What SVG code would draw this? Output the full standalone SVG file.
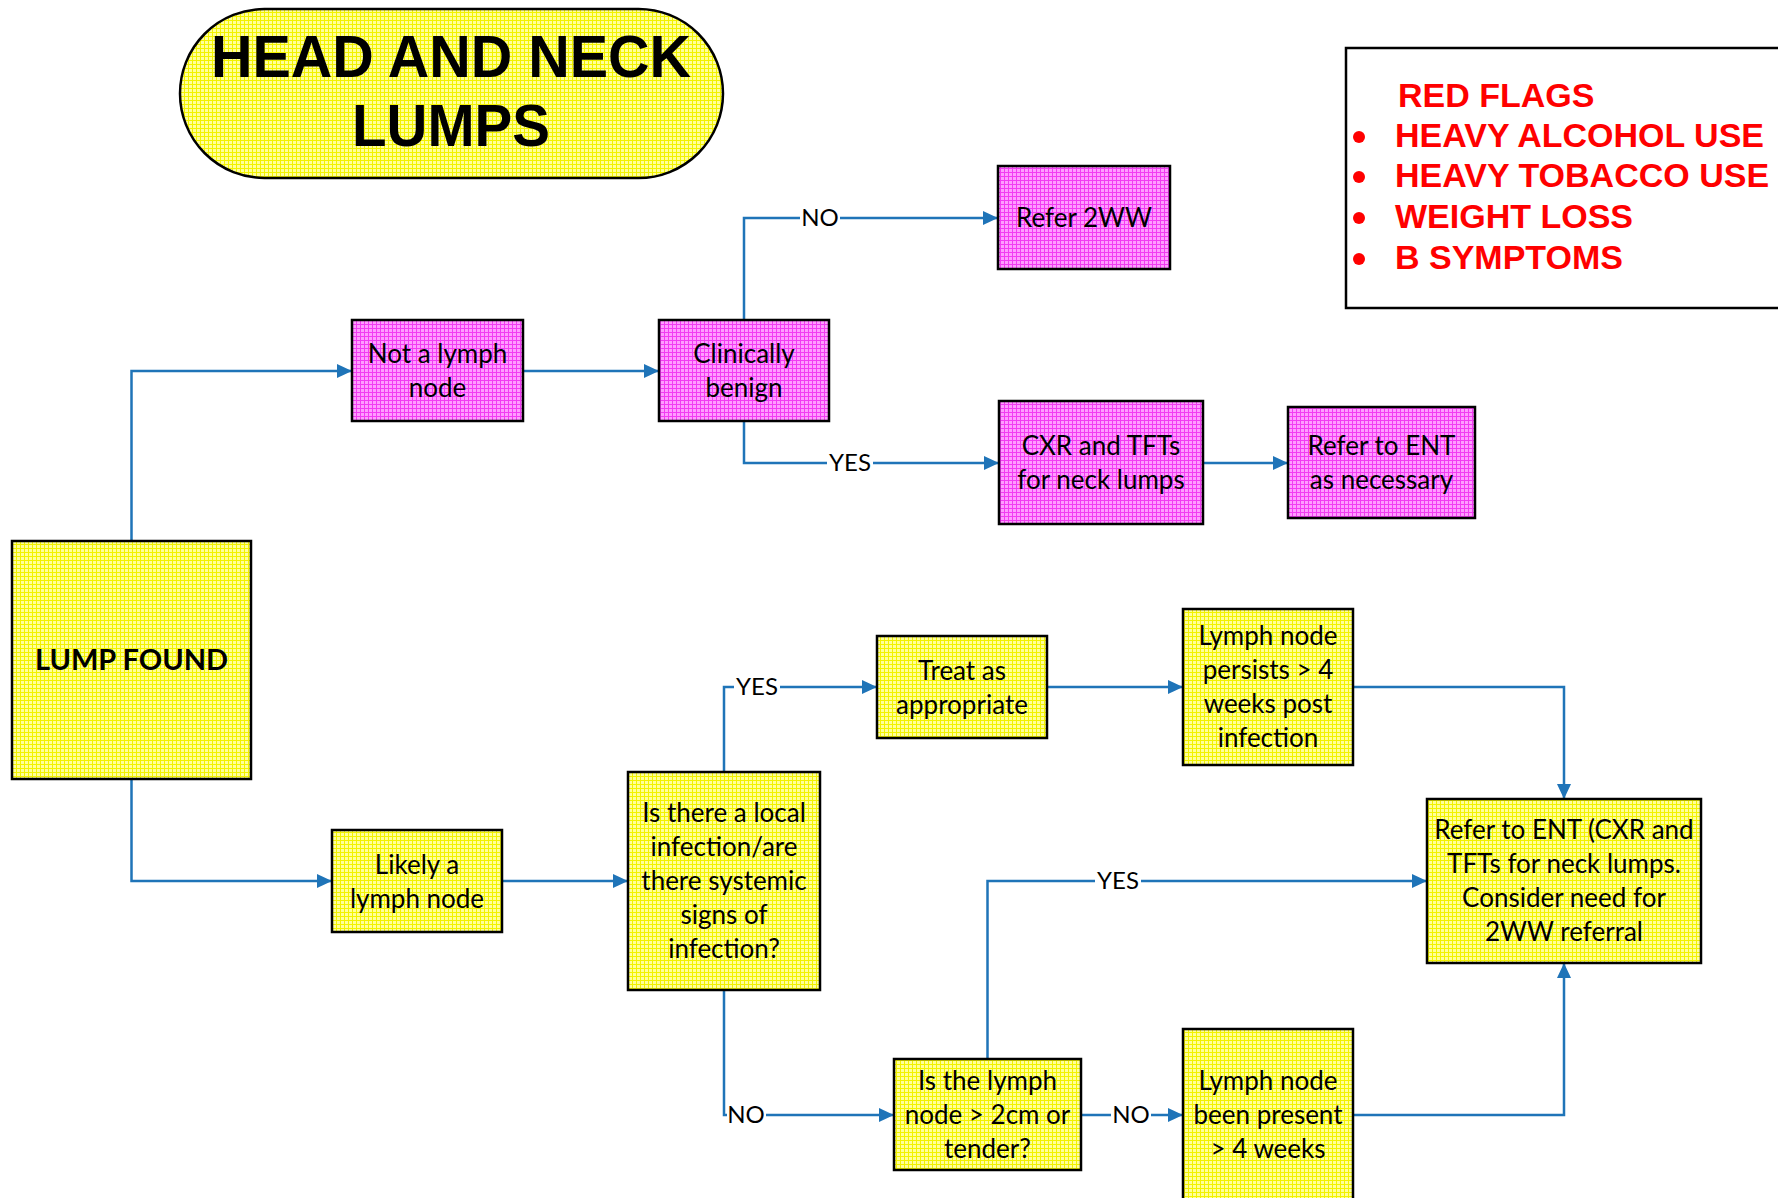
<svg xmlns="http://www.w3.org/2000/svg" width="1778" height="1198" viewBox="0 0 1778 1198">
<defs>
<pattern id="py" width="4" height="4" patternUnits="userSpaceOnUse">
<rect width="4" height="4" fill="#ffff9a"/>
<path d="M0 0.5H4M0.5 0V4" stroke="#f2f200" stroke-width="1"/>
</pattern>
<pattern id="pm" width="4" height="4" patternUnits="userSpaceOnUse">
<rect width="4" height="4" fill="#ff9cff"/>
<path d="M0 0.5H4M0.5 0V4" stroke="#f23cf2" stroke-width="1"/>
</pattern>
<marker id="ar" markerUnits="userSpaceOnUse" markerWidth="16" markerHeight="14" refX="15" refY="7" orient="auto">
<path d="M0,0 L15,7 L0,14 z" fill="#1f74b8"/>
</marker>
</defs>
<style>
.y{fill:url(#py);stroke:#000;stroke-width:2.5}
.m{fill:url(#pm);stroke:#000;stroke-width:2.5}
.t{font-family:Lato,"Open Sans",sans-serif;font-size:26px;fill:#000;text-anchor:middle}
.b{font-weight:bold;font-size:29px}
.c{fill:none;stroke:#1f74b8;stroke-width:2.5;marker-end:url(#ar)}
.lbl{font-family:Lato,"Open Sans",sans-serif;font-size:24px;fill:#000;text-anchor:middle}
.rf{font-family:"Liberation Sans",Arial,sans-serif;font-weight:bold;font-size:34px;fill:#ff0000}
</style>
<rect width="1778" height="1198" fill="#fff"/>

<g id="title">
<rect x="180" y="9" width="543" height="169" rx="84.5" ry="84.5" class="y"/>
<text x="451" y="77" font-family="Liberation Sans,Arial,sans-serif" font-weight="bold" font-size="60" text-anchor="middle" textLength="480" lengthAdjust="spacingAndGlyphs">HEAD AND NECK</text>
<text x="451" y="146" font-family="Liberation Sans,Arial,sans-serif" font-weight="bold" font-size="60" text-anchor="middle" textLength="198" lengthAdjust="spacingAndGlyphs">LUMPS</text>
</g>

<g id="redflags">
<rect x="1346" y="48" width="450" height="260" fill="#fff" stroke="#000" stroke-width="2.5"/>
<text class="rf" x="1398" y="107">RED FLAGS</text>
<circle cx="1359" cy="137" r="6" fill="#ff0000"/>
<text class="rf" x="1395" y="147">HEAVY ALCOHOL USE</text>
<circle cx="1359" cy="177" r="6" fill="#ff0000"/>
<text class="rf" x="1395" y="187">HEAVY TOBACCO USE</text>
<circle cx="1359" cy="218" r="6" fill="#ff0000"/>
<text class="rf" x="1395" y="228">WEIGHT LOSS</text>
<circle cx="1359" cy="259" r="6" fill="#ff0000"/>
<text class="rf" x="1395" y="269">B SYMPTOMS</text>
</g>

<g id="connectors">
<path class="c" d="M131.5,541 V371 H352"/>
<path class="c" d="M523,371 H659"/>
<path class="c" d="M744,320 V218 H998"/>
<path class="c" d="M744,421 V463 H999"/>
<path class="c" d="M1203,463 H1288"/>
<path class="c" d="M131.5,779 V881 H332"/>
<path class="c" d="M502,881 H628"/>
<path class="c" d="M724,772 V687 H877"/>
<path class="c" d="M1047,687 H1183"/>
<path class="c" d="M1353,687 H1564 V799"/>
<path class="c" d="M724,990 V1115 H894"/>
<path class="c" d="M987.5,1059 V881 H1427"/>
<path class="c" d="M1081,1115 H1183"/>
<path class="c" d="M1353,1115 H1564 V963"/>
<g id="labels">
<rect x="800" y="204" width="40" height="28" fill="#fff"/>
<text class="lbl" x="820" y="226">NO</text>
<rect x="827" y="449" width="46" height="28" fill="#fff"/>
<text class="lbl" x="850" y="471">YES</text>
<rect x="734" y="673" width="46" height="28" fill="#fff"/>
<text class="lbl" x="757" y="695">YES</text>
<rect x="727" y="1101" width="39" height="28" fill="#fff"/>
<text class="lbl" x="746" y="1123">NO</text>
<rect x="1095" y="867" width="46" height="28" fill="#fff"/>
<text class="lbl" x="1118" y="889">YES</text>
<rect x="1111" y="1101" width="40" height="28" fill="#fff"/>
<text class="lbl" x="1131" y="1123">NO</text>
</g>
</g>

<g id="lump-found">
<rect x="12" y="541" width="239" height="238" class="y"/>
<text class="t b" x="131.5" y="670">LUMP FOUND</text>
</g>

<g id="not-lymph">
<rect x="352" y="320" width="171" height="101" class="m"/>
<text class="t" x="437.5" y="363">Not a lymph</text>
<text class="t" x="437.5" y="397">node</text>
</g>

<g id="clinically-benign">
<rect x="659" y="320" width="170" height="101" class="m"/>
<text class="t" x="744" y="363">Clinically</text>
<text class="t" x="744" y="397">benign</text>
</g>

<g id="refer-2ww">
<rect x="998" y="166" width="172" height="103" class="m"/>
<text class="t" x="1084" y="227">Refer 2WW</text>
</g>

<g id="cxr-tfts">
<rect x="999" y="401" width="204" height="123" class="m"/>
<text class="t" x="1101" y="455">CXR and TFTs</text>
<text class="t" x="1101" y="489">for neck lumps</text>
</g>

<g id="refer-ent-necessary">
<rect x="1288" y="407" width="187" height="111" class="m"/>
<text class="t" x="1381.5" y="455">Refer to ENT</text>
<text class="t" x="1381.5" y="489">as necessary</text>
</g>

<g id="likely-lymph">
<rect x="332" y="830" width="170" height="102" class="y"/>
<text class="t" x="417" y="874">Likely a</text>
<text class="t" x="417" y="908">lymph node</text>
</g>

<g id="local-infection">
<rect x="628" y="772" width="192" height="218" class="y"/>
<text class="t" x="724" y="822">Is there a local</text>
<text class="t" x="724" y="856">infection/are</text>
<text class="t" x="724" y="890">there systemic</text>
<text class="t" x="724" y="924">signs of</text>
<text class="t" x="724" y="958">infection?</text>
</g>

<g id="treat">
<rect x="877" y="636" width="170" height="102" class="y"/>
<text class="t" x="962" y="680">Treat as</text>
<text class="t" x="962" y="714">appropriate</text>
</g>

<g id="persists">
<rect x="1183" y="609" width="170" height="156" class="y"/>
<text class="t" x="1268" y="645">Lymph node</text>
<text class="t" x="1268" y="679">persists &gt; 4</text>
<text class="t" x="1268" y="713">weeks post</text>
<text class="t" x="1268" y="747">infection</text>
</g>

<g id="refer-ent">
<rect x="1427" y="799" width="274" height="164" class="y"/>
<text class="t" x="1564" y="839">Refer to ENT (CXR and</text>
<text class="t" x="1564" y="873">TFTs for neck lumps.</text>
<text class="t" x="1564" y="907">Consider need for</text>
<text class="t" x="1564" y="941">2WW referral</text>
</g>

<g id="node-size">
<rect x="894" y="1059" width="187" height="111" class="y"/>
<text class="t" x="987.5" y="1090">Is the lymph</text>
<text class="t" x="987.5" y="1124">node &gt; 2cm or</text>
<text class="t" x="987.5" y="1158">tender?</text>
</g>

<g id="present-4w">
<rect x="1183" y="1029" width="170" height="180" class="y"/>
<text class="t" x="1268" y="1090">Lymph node</text>
<text class="t" x="1268" y="1124">been present</text>
<text class="t" x="1268" y="1158">&gt; 4 weeks</text>
</g>
</svg>
